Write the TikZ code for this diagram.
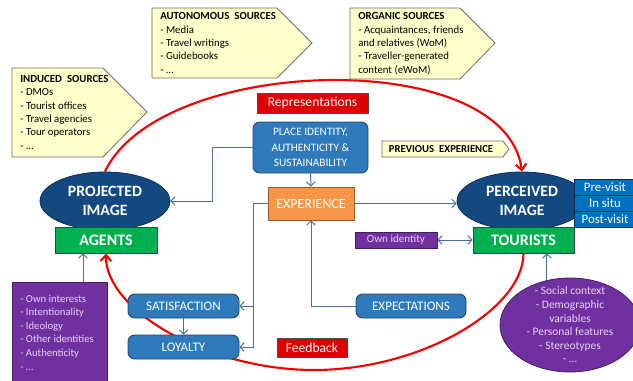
\documentclass[tikz,border=0pt]{standalone}
\usepackage{fontspec}
\setmainfont{Carlito}
\usetikzlibrary{arrows.meta,backgrounds,calc,shapes.geometric}
\definecolor{calfill}{RGB}{255,255,204}
\definecolor{caldraw}{RGB}{110,110,110}
\definecolor{dkblue}{RGB}{20,72,128}
\definecolor{dkblueline}{RGB}{12,45,85}
\definecolor{mdblue}{RGB}{46,122,186}
\definecolor{mdblueline}{RGB}{40,70,110}
\definecolor{brblue}{RGB}{0,112,192}
\definecolor{grn}{RGB}{0,176,80}
\definecolor{orng}{RGB}{247,150,70}
\definecolor{orngline}{RGB}{160,90,40}
\definecolor{purp}{RGB}{112,48,160}
\definecolor{purpline}{RGB}{70,30,100}
\definecolor{purptxt}{RGB}{232,208,246}
\definecolor{boxred}{RGB}{222,0,0}
\definecolor{linered}{RGB}{245,0,0}
\definecolor{connc}{RGB}{79,110,160}
\begin{document}
\begin{tikzpicture}[x=0.75pt,y=-0.75pt,
  sz/.style 2 args={minimum width={#1*0.75pt},minimum height={#2*0.75pt}},
  calshape/.style={fill=calfill,draw=caldraw,line width=0.6pt},
  caltext/.style={inner sep=0pt,anchor=north west,align=left,font=\fontsize{8.1}{10}\selectfont},
  bluebox/.style={draw=mdblueline,fill=mdblue,text=white,rounded corners=5pt,inner sep=0pt,align=center,line width=0.7pt,font=\fontsize{9.8}{11.6}\selectfont},
  expbox/.style={draw=orngline,fill=orng,text=white,inner sep=0pt,line width=0.7pt,font=\fontsize{10.5}{11.6}\selectfont},
  ownbox/.style={draw=purpline,fill=purp,text=purptxt,inner sep=0pt,line width=0.6pt,font=\fontsize{8.3}{9}\selectfont},
  redbox/.style={draw=black!70,fill=boxred,text=white,inner sep=0pt,line width=0.6pt,font=\fontsize{10.2}{11}\selectfont},
  imgell/.style={ellipse,draw=dkblueline,fill=dkblue,text=white,inner sep=0pt,align=center,line width=0.6pt,font=\bfseries\fontsize{11.8}{14.2}\selectfont},
  grnbox/.style={draw=black!75,fill=grn,text=white,inner sep=0pt,line width=0.7pt,font=\bfseries\fontsize{12}{13}\selectfont},
  phasebox/.style={draw=dkblueline,fill=brblue,text=white,inner sep=0pt,line width=0.6pt,font=\fontsize{9.6}{10}\selectfont},
  purpshape/.style={draw=purpline,fill=purp,line width=0.6pt,inner sep=0pt},
  purptext/.style={text=purptxt,inner sep=0pt,font=\fontsize{8}{10.2}\selectfont},
  conn/.style={draw=connc,line width=0.75pt,-{Straight Barb[length=3pt,width=6.5pt]}},
  biconn/.style={draw=connc,line width=0.75pt,{Straight Barb[length=3pt,width=6.5pt]}-{Straight Barb[length=3pt,width=6.5pt]}},
  redline/.style={draw=linered,line width=1.6pt,-{Straight Barb[length=4.5pt,width=8pt]}},
]
\useasboundingbox (0,0) rectangle (633,380);

% callouts
\draw[calshape] (12,68) -- (103,68) -- (147,112) -- (103,157) -- (12,157) -- cycle;
\node[caltext] (induced) at (20,75) {\textbf{INDUCED\hspace{0.25em} SOURCES}\\- DMOs\\- Tourist offices\\- Travel agencies\\- Tour operators\\- \ldots};
\draw[calshape] (152,8) -- (277,8) -- (312,43) -- (277,78) -- (152,78) -- cycle;
\node[caltext] (autonomous) at (160,12.5) {\textbf{AUTONOMOUS\hspace{0.25em} SOURCES}\\- Media\\- Travel writings\\- Guidebooks\\- \ldots};
\draw[calshape] (350,8) -- (460,8) -- (495,43) -- (460,79) -- (350,79) -- cycle;
\node[caltext] (organic) at (358,12.5) {\textbf{ORGANIC SOURCES}\\- Acquaintances, friends\\and relatives (WoM)\\- Traveller-generated\\content (eWoM)};
\draw[calshape] (382,141) -- (503,141) -- (509,149) -- (503,157) -- (382,157) -- cycle;
\node[inner sep=0pt,font=\bfseries\fontsize{8}{9}\selectfont] (prev) at (441,149) {PREVIOUS\hspace{0.25em} EXPERIENCE};

% central nodes
\node[redbox,sz={111}{20}] (rep) at (312.5,103) {Representations};
\node[bluebox,sz={115}{51},font=\fontsize{8.5}{11.6}\selectfont] (place) at (310.5,147.5) {PLACE IDENTITY,\\AUTHENTICITY \&\\SUSTAINABILITY};
\node[expbox,sz={86}{33}] (exper) at (311,203.5) {EXPERIENCE};
\node[ownbox,sz={82}{16}] (own) at (396,240) {Own identity};
\node[bluebox,sz={110}{24}] (expect) at (411,306) {EXPECTATIONS};
\node[bluebox,sz={111}{24}] (satis) at (183.5,306) {SATISFACTION};
\node[bluebox,sz={111}{24}] (loyal) at (183.5,347) {LOYALTY};
\node[redbox,sz={70}{19}] (feed) at (312,347.5) {Feedback};

% image nodes
\node[imgell,sz={130}{58}] (proj) at (105,201) {PROJECTED\\IMAGE};
\node[grnbox,sz={102}{26}] (agents) at (106,240) {AGENTS};
\node[imgell,sz={130}{58}] (perc) at (522,201) {PERCEIVED\\IMAGE};
\node[grnbox,sz={101}{26}] (tourists) at (523.5,240) {TOURISTS};
\node[phasebox,sz={62}{16}] (pre) at (605,187) {Pre-visit};
\node[phasebox,sz={62}{16}] (insitu) at (605,203) {In situ};
\node[phasebox,sz={62}{16}] (post) at (605,219) {Post-visit};

% purple boxes
\node[purpshape,sz={95}{100},anchor=north west] (interests) at (12,282) {};
\node[purptext,anchor=west,align=left] (intlist) at ([xshift=6pt]interests.west) {- Own interests\\- Intentionality\\- Ideology\\- Other identities\\- Authenticity\\- \ldots};
\node[purpshape,ellipse,sz={140}{94}] (context) at (570,325) {};
\node[purptext,align=center,font=\fontsize{8.6}{10.2}\selectfont] (ctxlist) at (context.center) {- Social context\\- Demographic\\variables\\- Personal features\\- Stereotypes\\- \ldots};

\coordinate (ag) at ([xshift=-17.25pt]agents.south);
\coordinate (tu) at ([xshift=17.6pt]tourists.south);
\coordinate (redbot) at (314,370);

\begin{pgfonlayer}{background}
\draw[conn] (place.west) -- ++(-40,0) |- (proj.east);
\draw[conn] (place.south) -- (exper.north);
\draw[conn] (exper.east) -- (exper.east -| perc.west);
\draw[conn] (exper.west) -- ++(-14,0) coordinate (split) |- (satis.east);
\draw[conn] (split) |- (loyal.east);
\draw[conn] (expect.west) -| (exper.south);
\draw[conn] (satis.south) -- (loyal.north);
\draw[biconn] (own.east) -- (tourists.west);
\draw[conn] (ag |- interests.center) -- (ag);
\draw[conn] (tu |- context.center) -- (tu);
\draw[redline] (proj.north) .. controls (160,55) and (505,45) .. (perc.north);
\draw[redline] (tourists.south) .. controls (523,310) and (420,370) .. (redbot) .. controls (208,370) and (105,310) .. (agents.south);
\end{pgfonlayer}
\end{tikzpicture}
\end{document}
